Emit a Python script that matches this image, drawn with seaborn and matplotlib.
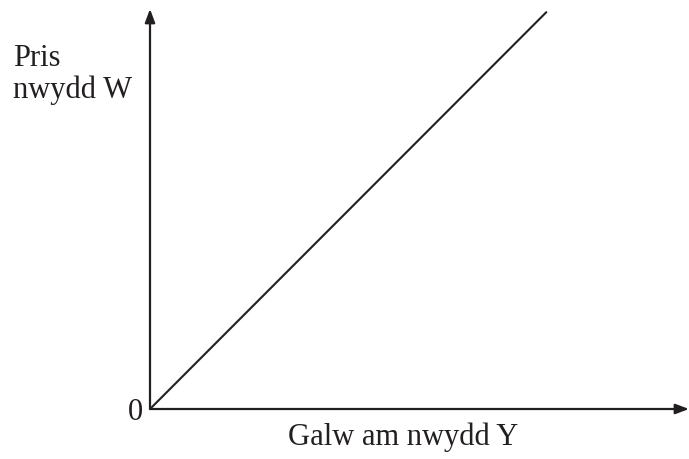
import matplotlib
matplotlib.use("Agg")
import matplotlib.pyplot as plt
import seaborn as sns
import pandas as pd

# demand for good Y vs price of good W (straight line through origin)
galw = [0, 10]
pris = [0, 10]
x_max = 13.6
y_max = 10.08

sns.set_style("white")
plt.rcParams['font.family'] = ['Liberation Serif', 'DejaVu Serif']

df = pd.DataFrame({"galw": galw, "pris": pris})

fig = plt.figure(figsize=(6.89, 4.60), dpi=100)
ax = fig.add_axes([150 / 689, 50 / 460, 539 / 689, 400 / 460])

sns.lineplot(data=df, x="galw", y="pris", ax=ax, color="#231f20", linewidth=1.5)
ax.set_xlim(0, x_max)
ax.set_ylim(0, y_max)
ax.set_xticks([])
ax.set_yticks([])
ax.set_xlabel("")
ax.set_ylabel("")
for s in ax.spines.values():
    s.set_visible(False)

arrow = dict(arrowstyle="-|>,head_length=0.8,head_width=0.3", color="#231f20",
             lw=1.6, shrinkA=0, shrinkB=0)
ax.annotate("", xy=(1.0, 0), xytext=(0, 0), xycoords="axes fraction", arrowprops=arrow)
ax.annotate("", xy=(0, 1.0), xytext=(0, 0), xycoords="axes fraction", arrowprops=arrow)

fs = 22
fig.text(13 / 689, 1 - 66 / 460, "Pris", fontsize=fs, va="baseline", ha="left", color="#231f20")
fig.text(13 / 689, 1 - 98 / 460, "nwydd W", fontsize=fs, va="baseline", ha="left", color="#231f20")
fig.text(135 / 689, 1 - 420 / 460, "0", fontsize=fs, va="baseline", ha="center", color="#231f20")
fig.text(403 / 689, 1 - 445 / 460, "Galw am nwydd Y", fontsize=fs, va="baseline", ha="center", color="#231f20")

fig.savefig("out.png", dpi=100)
